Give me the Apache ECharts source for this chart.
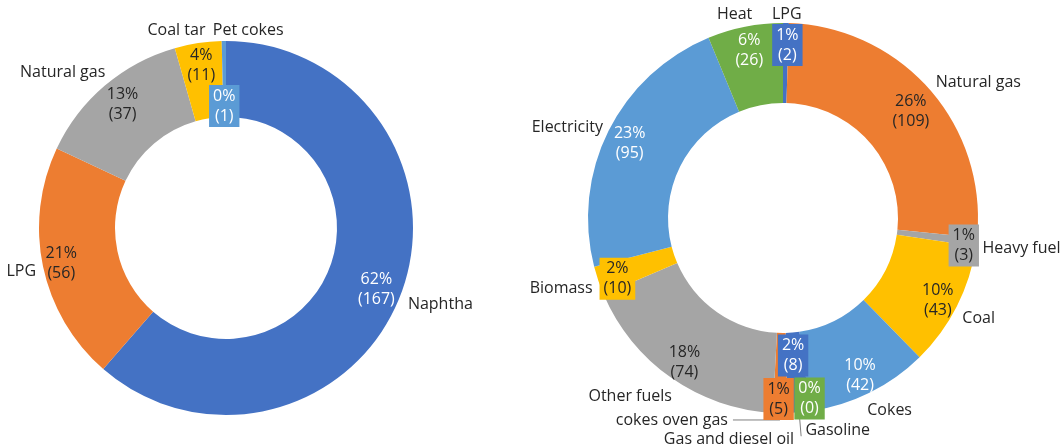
<!DOCTYPE html>
<html>
<head>
<meta charset="utf-8">
<script src="https://cdn.jsdelivr.net/npm/echarts@6/dist/echarts.min.js"></script>
<style>
  html, body { margin: 0; background: #fff; }
  #chart { width: 1062px; height: 448px; }
</style>
</head>
<body>
<div id="chart"></div>
<script>
// left ring
const leftNames = ["Naphtha", "LPG", "Natural gas", "Coal tar", "Pet cokes"];
const leftValues = [167, 56, 37, 11, 1];
const leftPct = ["62%", "21%", "13%", "4%", "0%"];

// right ring
const rightNames = ["LPG", "Natural gas", "Heavy fuel", "Coal", "Cokes", "Gasoline",
  "Gas and diesel oil", "cokes oven gas", "Other fuels", "Biomass", "Electricity", "Heat"];
const rightValues = [2, 109, 3, 43, 42, 0, 8, 5, 74, 10, 95, 26];
const rightPct = ["1%", "26%", "1%", "10%", "10%", "0%", "2%", "1%", "18%", "2%", "23%", "6%"];

const palette = ["#4472C4", "#ED7D31", "#A5A5A5", "#FFC000", "#5B9BD5", "#70AD47"];
const darkText = "#262626";
const whiteOn = { "#4472C4": 1, "#5B9BD5": 1, "#70AD47": 1 };
const font = { fontFamily: "Open Sans", fontSize: 16, lineHeight: 20 };

// nudges so the labels sit where the original put them
const left = {
  center: [226, 228], radius: [111, 187],
  valueShift: [[8, 8], [-16, 4], [-5, -8], [-2, -12], [0, 30]],
  nameShift: [[-3, 10], [3, 4], [9, -10], [14, -9], [-5, -7, "left"]],
  boxed: [4],
  lines: {}
};
const right = {
  center: [783, 218], radius: [115, 195],
  valueShift: [[2, -15], [9, -2], [24, 8], [14, 11], [7, 16], [4, 24], [-3, -20],
    [-2, 23], [-8, 15], [-16, 10], [-12, -4], [-3, -13]],
  nameShift: [[-20, -5], [-3, -4], [-4, 6], [-4, 10], [-10, 14], [-12, 15], [-12, 3, "right"],
    null, [9, 15], [4, 6], [4, -2], [14, -8]],
  boxed: [0, 2, 5, 6, 7, 9],
  lines: { 6: [24, 0], 7: [7, 47] }
};

function shiftLayout(shifts) {
  return function (p) {
    const s = shifts[p.dataIndex];
    if (!s) return;
    const out = { dx: s[0], dy: s[1] };
    if (s[2]) out.align = s[2];
    return out;
  };
}

function ring(names, values, pct, cfg) {
  const valueSeries = {
    type: "pie",
    center: cfg.center,
    radius: cfg.radius,
    startAngle: 90,
    clockwise: true,
    avoidLabelOverlap: false,
    silent: true,
    label: Object.assign({
      position: "inside",
      formatter: p => pct[p.dataIndex] + "\n(" + p.value + ")",
      textBorderWidth: 0
    }, font),
    labelLine: { show: false },
    labelLayout: shiftLayout(cfg.valueShift),
    data: names.map((n, i) => {
      const c = palette[i % palette.length];
      const item = { name: n, value: values[i], itemStyle: { color: c },
        label: { color: whiteOn[c] ? "#fff" : darkText } };
      if (cfg.boxed.includes(i)) {
        item.label.backgroundColor = c;
        item.label.padding = [1, 4];
      }
      return item;
    })
  };
  const nameSeries = {
    type: "pie",
    center: cfg.center,
    radius: cfg.radius,
    startAngle: 90,
    clockwise: true,
    avoidLabelOverlap: false,
    silent: true,
    itemStyle: { color: "rgba(0,0,0,0)" },
    label: Object.assign({ position: "outside", color: darkText, formatter: "{b}" }, font),
    labelLine: { show: false, length: 4, length2: 1 },
    labelLayout: shiftLayout(cfg.nameShift),
    data: names.map((n, i) => {
      const item = { name: n, value: values[i] };
      const l = cfg.lines[i];
      if (l) {
        item.labelLine = { show: true, length: l[0], length2: l[1],
          lineStyle: { color: "#7f7f7f", width: 1 } };
      }
      return item;
    })
  };
  return [valueSeries, nameSeries];
}

const chart = echarts.init(document.getElementById("chart"));
chart.setOption({
  animation: false,
  series: ring(leftNames, leftValues, leftPct, left)
    .concat(ring(rightNames, rightValues, rightPct, right))
});
</script>
</body>
</html>
